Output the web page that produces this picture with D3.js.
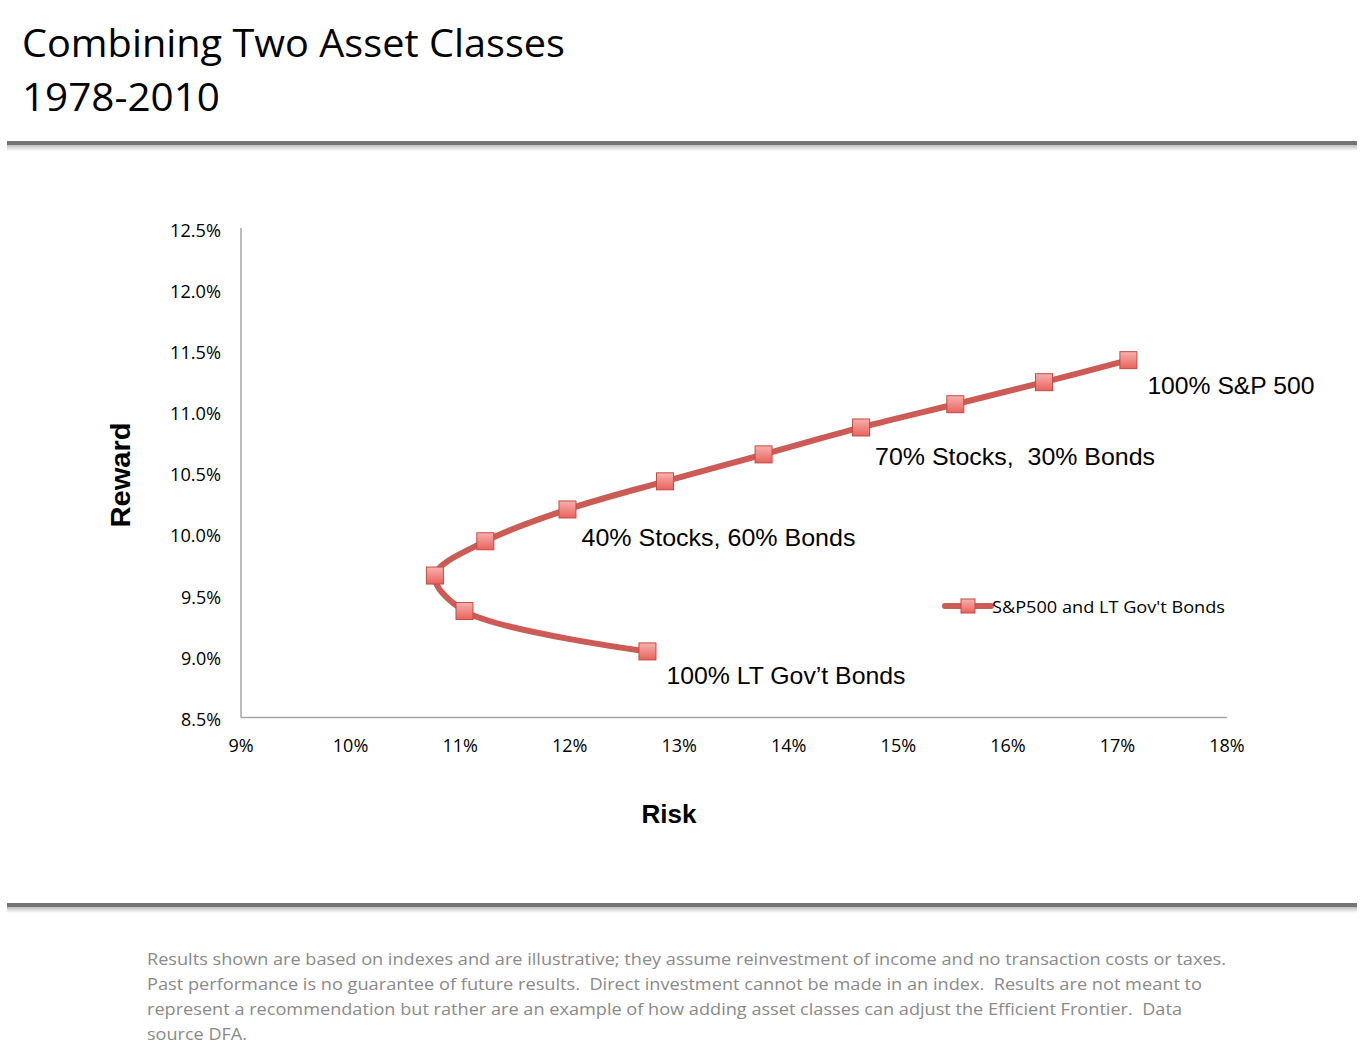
<!DOCTYPE html>
<html><head><meta charset="utf-8">
<script src="https://cdn.jsdelivr.net/npm/d3@7/dist/d3.min.js"></script>
<style>body{margin:0;background:#fff;}svg{display:block;}</style>
</head><body>
<svg id="c" width="1364" height="1058"></svg>
<script>
// Data
const seriesName = "S&P500 and LT Gov't Bonds";
const risk   = [12.71, 11.04, 10.77, 11.23, 11.98, 12.87, 13.77, 14.66, 15.52, 16.33, 17.10];
const reward = [9.04,  9.37,  9.66,  9.94,  10.20, 10.43, 10.65, 10.87, 11.06, 11.24, 11.42];
const xTicks = [9,10,11,12,13,14,15,16,17,18];
const yTicks = [8.5,9.0,9.5,10.0,10.5,11.0,11.5,12.0,12.5];
const annotations = [
  {text:"100% S&P 500", idx:10, dx:19, dy:34, w:167},
  {text:"70% Stocks,  30% Bonds", idx:7, dx:14, dy:38, w:280},
  {text:"40% Stocks, 60% Bonds", idx:4, dx:14, dy:37, w:274},
  {text:"100% LT Gov\u2019t Bonds", idx:0, dx:19, dy:33, w:239}
];
const titleLines = ["Combining Two Asset Classes","1978-2010"];
const footer = [
  "Results shown are based on indexes and are illustrative; they assume reinvestment of income and no transaction costs or taxes.",
  "Past performance is no guarantee of future results.  Direct investment cannot be made in an index.  Results are not meant to",
  "represent a recommendation but rather are an example of how adding asset classes can adjust the Efficient Frontier.  Data",
  "source DFA."
];
const footerWidths = [1079, 1055, 1035, 100];

const svg = d3.select("#c");
const defs = svg.append("defs");
const g1 = defs.append("linearGradient").attr("id","mk").attr("x1",0).attr("y1",0).attr("x2",0).attr("y2",1);
g1.append("stop").attr("offset","0%").attr("stop-color","#f9b1ae");
g1.append("stop").attr("offset","100%").attr("stop-color","#e8625c");
const sh = defs.append("linearGradient").attr("id","sh").attr("x1",0).attr("y1",0).attr("x2",0).attr("y2",1);
sh.append("stop").attr("offset","0%").attr("stop-color","#bdbdbd");
sh.append("stop").attr("offset","100%").attr("stop-color","#ffffff");

// Title
svg.append("g").selectAll("text").data(titleLines).join("text")
  .attr("x",22).attr("y",(d,i)=>57+i*54)
  .attr("font-family","'Open Sans', sans-serif").attr("font-size",38).attr("fill","#000")
  .attr("textLength",(d,i)=>i===0?543:198).attr("lengthAdjust","spacingAndGlyphs")
  .text(d=>d);

// Rules
[141, 903].forEach(yy=>{
  svg.append("rect").attr("x",7).attr("y",yy+4).attr("width",1350).attr("height",6).attr("fill","url(#sh)");
  svg.append("rect").attr("x",7).attr("y",yy).attr("width",1350).attr("height",4).attr("fill","#747474");
});

// Scales
const x = d3.scaleLinear().domain([9,18]).range([241,1227]);
const y = d3.scaleLinear().domain([8.5,12.5]).range([717.5,228]);

// Axes lines
svg.append("line").attr("x1",x(9)).attr("x2",x(9)).attr("y1",y(12.5)).attr("y2",y(8.5)).attr("stroke","#a6a6a6").attr("stroke-width",1.5);
svg.append("line").attr("x1",x(9)).attr("x2",x(18)).attr("y1",y(8.5)).attr("y2",y(8.5)).attr("stroke","#a6a6a6").attr("stroke-width",1.5);

const tf = "'Open Sans', sans-serif";
svg.append("g").selectAll("text").data(yTicks).join("text")
  .attr("x",221).attr("y",d=>y(d)+8.5).attr("text-anchor","end")
  .attr("font-family",tf).attr("font-size",18).attr("fill","#000")
  .attr("textLength",d=>d>=10?51:40).attr("lengthAdjust","spacingAndGlyphs")
  .text(d=>d3.format(".1f")(d)+"%");
svg.append("g").selectAll("text").data(xTicks).join("text")
  .attr("x",d=>x(d)).attr("y",752).attr("text-anchor","middle")
  .attr("font-family",tf).attr("font-size",18).attr("fill","#000")
  .text(d=>d+"%");

// Axis titles
svg.append("text").attr("transform","translate(130,475) rotate(-90)").attr("text-anchor","middle")
  .attr("font-family","'Liberation Sans', Arial, sans-serif").attr("font-weight","bold").attr("font-size",27)
  .attr("textLength",105).attr("lengthAdjust","spacingAndGlyphs").text("Reward");
svg.append("text").attr("x",669).attr("y",823).attr("text-anchor","middle")
  .attr("font-family","'Liberation Sans', Arial, sans-serif").attr("font-weight","bold").attr("font-size",26)
  .attr("textLength",55).attr("lengthAdjust","spacingAndGlyphs").text("Risk");

// Line
const pts = risk.map((r,i)=>[r,reward[i]]);
const line = d3.line().x(d=>x(d[0])).y(d=>y(d[1])).curve(d3.curveCatmullRom.alpha(0.5));
svg.append("path").attr("d",line(pts)).attr("fill","none").attr("stroke","#cd5b55").attr("stroke-width",6).attr("stroke-linejoin","round").attr("stroke-linecap","round");

// Markers
const ms = 17;
svg.append("g").selectAll("rect").data(pts).join("rect")
  .attr("x",d=>x(d[0])-ms/2).attr("y",d=>y(d[1])-ms/2).attr("width",ms).attr("height",ms)
  .attr("fill","url(#mk)").attr("stroke","#c44a44").attr("stroke-width",1);

// Annotations
svg.append("g").selectAll("text").data(annotations).join("text")
  .attr("x",d=>x(risk[d.idx])+d.dx).attr("y",d=>y(reward[d.idx])+d.dy)
  .attr("font-family","'Liberation Sans', Arial, sans-serif").attr("font-size",24.5).attr("fill","#000")
  .attr("xml:space","preserve").style("white-space","pre")
  .attr("textLength",d=>d.w).attr("lengthAdjust","spacingAndGlyphs")
  .text(d=>d.text);

// Legend
const lg = svg.append("g").attr("transform","translate(945,606)");
lg.append("line").attr("x1",0).attr("x2",46).attr("y1",0).attr("y2",0).attr("stroke","#cd5b55").attr("stroke-width",6).attr("stroke-linecap","round");
lg.append("rect").attr("x",23-7).attr("y",-7).attr("width",14).attr("height",14).attr("fill","url(#mk)").attr("stroke","#c44a44");
lg.append("text").attr("x",47).attr("y",7).attr("font-family",tf).attr("font-size",16.5).attr("fill","#000")
  .attr("textLength",233).attr("lengthAdjust","spacingAndGlyphs").text(seriesName);

// Footer
svg.append("g").selectAll("text").data(footer).join("text")
  .attr("x",147).attr("y",(d,i)=>965+i*25)
  .attr("font-family",tf).attr("font-size",17).attr("fill","#8a8a8a")
  .style("white-space","pre")
  .attr("textLength",(d,i)=>footerWidths[i]).attr("lengthAdjust","spacingAndGlyphs")
  .text(d=>d);
</script>
</body></html>
